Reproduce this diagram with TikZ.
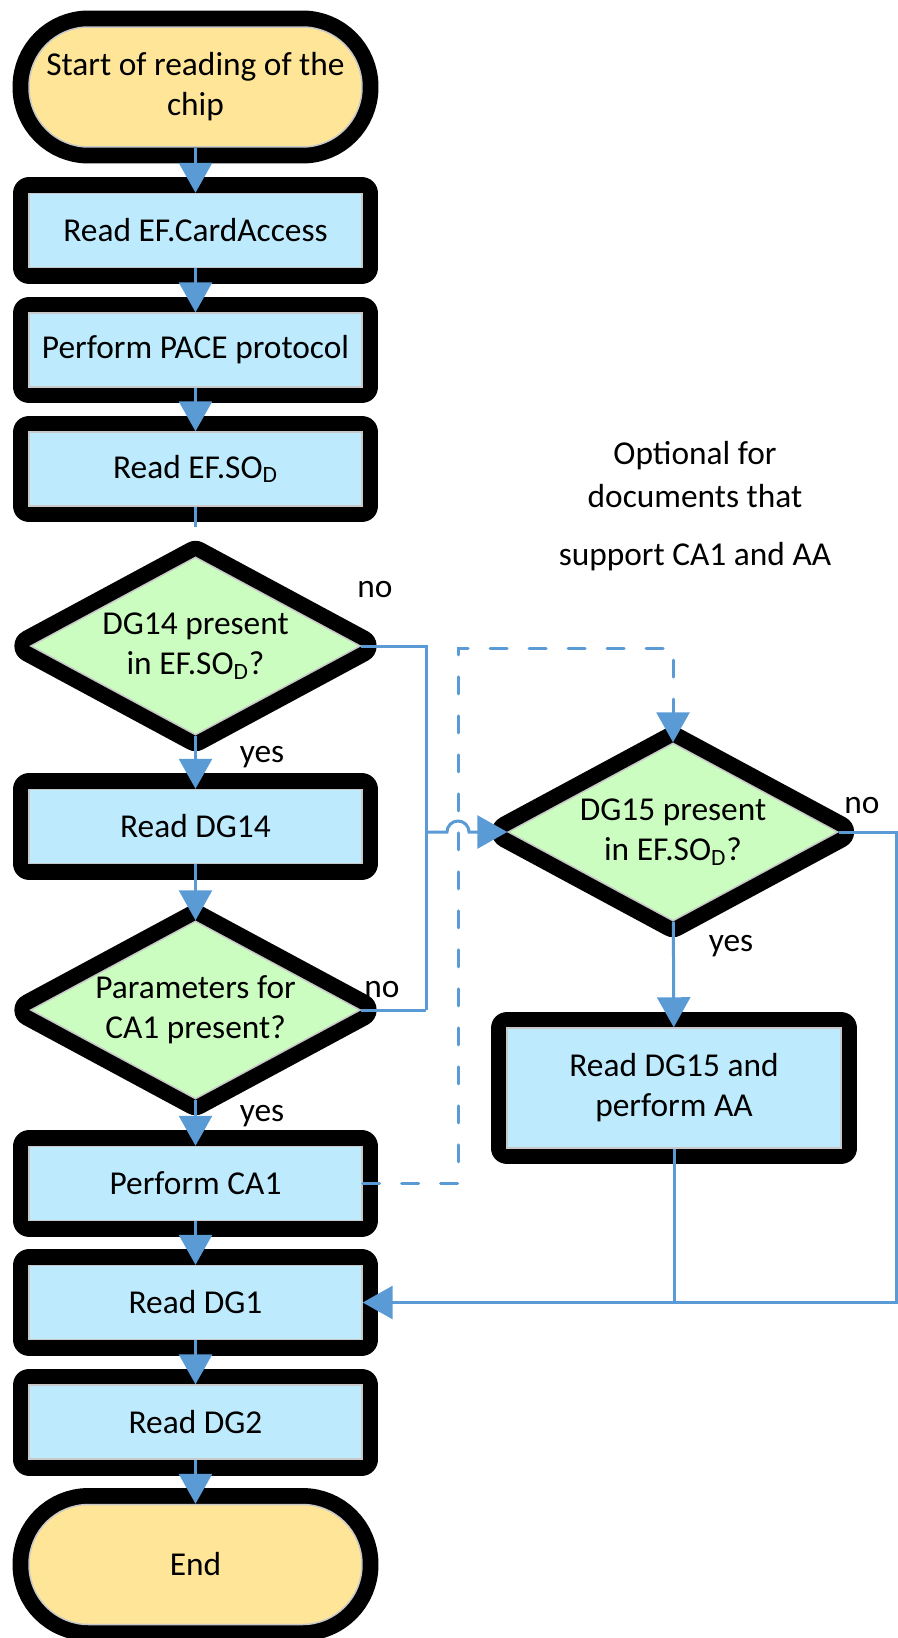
\documentclass[tikz,border=0pt]{standalone}
\usepackage{fontspec}
\setmainfont{Carlito}
\usepackage{tikz}
\usetikzlibrary{arrows.meta,calc,positioning,shapes.geometric}
\definecolor{hatMavi}{HTML}{5B9BD5}
\definecolor{kutuMavi}{HTML}{BDEBFD}
\definecolor{soruYesil}{HTML}{CCFDC0}
\definecolor{ucSari}{HTML}{FFE598}
\definecolor{kenarGri}{HTML}{C8C8C8}

\begin{document}
\begin{tikzpicture}[x=0.02cm, y=-0.02cm, every node/.style={font=\fontsize{19}{22.7}\selectfont},
  hale/.style={preaction={draw=black,line width=0.66cm,line join=round}},
  kutu/.style={hale,draw=kenarGri,line width=0.03cm,fill=kutuMavi,
               minimum width=6.66cm,minimum height=1.48cm,align=center,inner sep=0pt},
  uc/.style={kutu,fill=ucSari,minimum height=2.4cm,rounded corners=1.19cm},
  soru/.style={hale,diamond,draw=kenarGri,line width=0.03cm,fill=soruYesil,shape aspect=1.9,
               minimum width=6.6cm,minimum height=3.56cm,inner sep=0pt,align=center},
  hat/.style={draw=hatMavi,line width=0.06cm},
  ok/.style={hat,-{Triangle[width=0.66cm,length=0.6cm]}},
  kesik/.style={ok,line cap=round,dash pattern=on 0.34cm off 0.44cm},
  etiket/.style={inner sep=0pt}]
\useasboundingbox (0,0) rectangle (897,1638);
\node[uc] (bas) at (195.5,87) {Start of reading of the\\chip};
\node[kutu] (card) at (195.5,230.5) {Read EF.CardAccess};
\node[kutu] (pace) at (195.5,350) {Perform PACE protocol};
\node[kutu] (sod) at (195.5,469) {Read EF.SO\textsubscript{D}};
\node[soru] (dg14) at (195.5,646) {DG14 present\\in EF.SO\textsubscript{D}?};
\node[kutu] (oku14) at (195.5,826.5) {Read DG14};
\node[soru] (param) at (195.5,1010) {Parameters for\\CA1 present?};
\node[kutu] (ca1) at (195.5,1183.5) {Perform CA1};
\node[kutu] (dg1) at (195.5,1302.5) {Read DG1};
\node[kutu] (dg2) at (195.5,1422) {Read DG2};
\node[uc] (son) at (195.5,1564.5) {End};
\node[soru] (dg15) at (673,832) {DG15 present\\in EF.SO\textsubscript{D}?};
\node[kutu,minimum width=6.68cm,minimum height=2.4cm] (oku15) at (674,1088) {Read DG15 and\\perform AA};
\node[align=center] (not) at (695,506) {Optional for\\[0.08cm]documents that\\[0.36cm]support CA1 and AA};

\node[etiket] (no14) at (375,590) {no};
\node[etiket] (yes14) at (262,757) {yes};
\node[etiket] (nop) at (382,990) {no};
\node[etiket] (yesp) at (262,1116) {yes};
\node[etiket] (no15) at (862,806) {no};
\node[etiket] (yes15) at (731,946) {yes};

\coordinate (bosluk) at (195.5,527);
\coordinate (pv) at (426,1010);
\coordinate (hop) at (447,832);
\coordinate (dv) at (458,648);
\coordinate (rv) at (896,1302.5);

\draw[ok] (bas) -- (card);
\draw[ok] (card) -- (pace);
\draw[ok] (pace) -- (sod);
\draw[hat] (sod.south) -- (bosluk);
\draw[ok] (dg14) -- (oku14);
\draw[ok] (oku14) -- (param);
\draw[ok] (param) -- (ca1);
\draw[ok] (ca1) -- (dg1);
\draw[ok] (dg1) -- (dg2);
\draw[ok] (dg2) -- (son);
\draw[hat] (dg14.east) -| (pv);
\draw[hat] (param.east) -- (pv);
\draw[ok] (pv |- dg15.west) -- (hop) arc[start angle=180,end angle=0,radius=0.22cm] -- (dg15.west);
\draw[kesik] (ca1.east) -| (dv) -| (dg15.north);
\draw[ok] (dg15) -- (oku15);
\draw[ok] (dg15.east) -| (rv) -- (dg1.east);
\draw[hat] (oku15.south) -- (oku15.south |- dg1.east);
\end{tikzpicture}
\end{document}
